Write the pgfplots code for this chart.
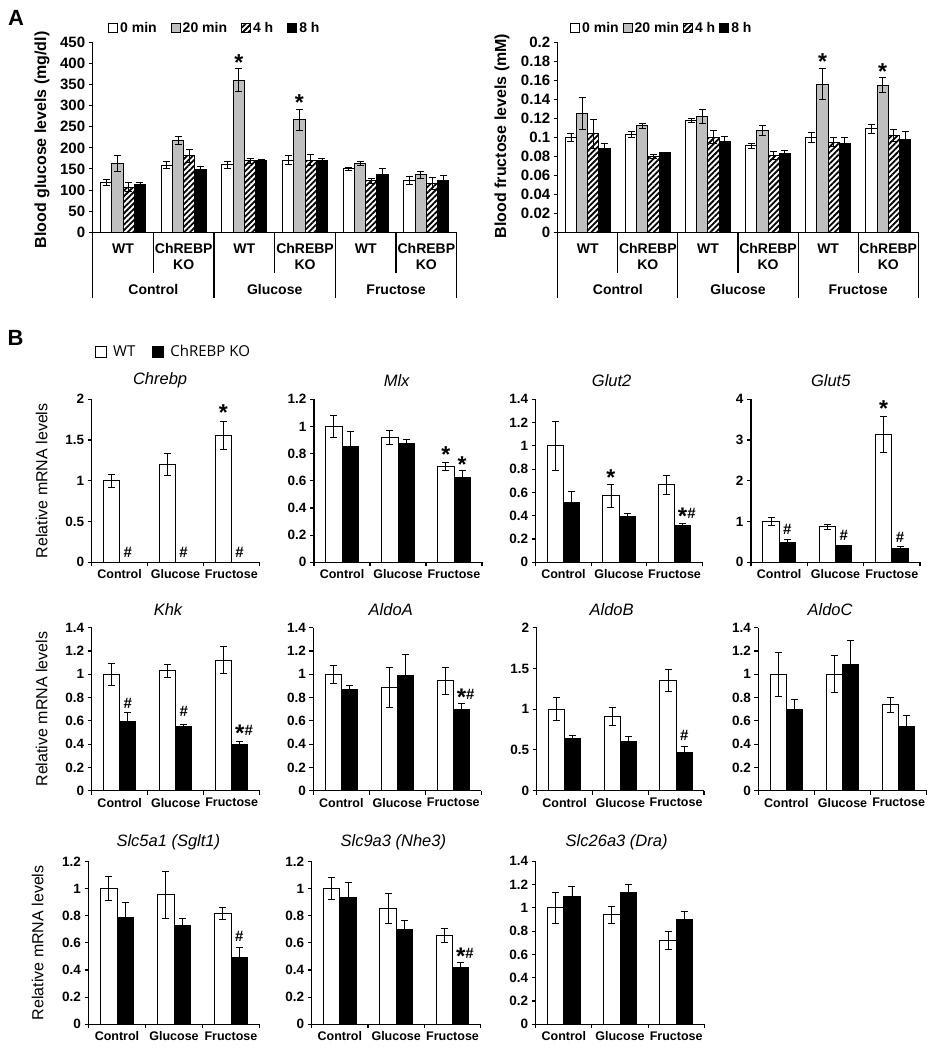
\documentclass[border=0pt]{standalone}
\usepackage{fontspec}
\setmainfont{Liberation Sans}
\newfontfamily\legfont{Open Sans}
\usepackage{pgfplots}
\pgfplotsset{compat=1.18}
\usetikzlibrary{patterns.meta}
\newcommand{\fs}[1]{\fontsize{#1bp}{#1bp}\selectfont}
\newcommand{\sh}{\raisebox{-6bp}{\fs{24}*}\fs{15}\#}
\definecolor{bargray}{RGB}{191,191,191}
\tikzset{
 star/.style={anchor=north,inner sep=0pt,font=\fs{23}\bfseries},
 hash/.style={anchor=north,inner sep=0pt,font=\fs{15}\bfseries},
}
\pgfplotsset{
 common/.style={
   scale only axis, axis lines*=left, clip=false, enlargelimits=false,
   ymin=0, tick align=outside, major tick length=4bp,
   axis line style={line width=1.1bp,black},
   every tick/.append style={line width=1.1bp,black},
   /pgf/number format/assume math mode=true,
   /pgf/number format/fixed, /pgf/number format/precision=2,
   ybar,
   error bars/y dir=both, error bars/y explicit,
   error bars/error bar style={line width=0.9bp,black},
   error bars/error mark options={line width=0.9bp,mark size=3.5bp,rotate=90,black},
   legend image code/.code={\draw[#1] (0bp,-4.5bp) rectangle (9bp,4.5bp);},
 },
 achart/.style={common, height=190bp, bar width=0.186, xmin=0, xmax=6, xtick=\empty,
   y tick label style={font=\fs{15}\bfseries},
   legend columns=4,
 },
 bchart/.style={common, height=163bp, bar width=0.29, xmin=0, xmax=3,
   xtick={0,1,2,3}, xticklabels={Control,Glucose,Fructose,}, x tick label as interval,
   x tick label style={font=\fs{12.5}\bfseries},
   y tick label style={font=\fs{13.5}\bfseries},
   title style={font=\fs{16.5}\itshape, anchor=center, yshift=12.6bp},
   every axis y label/.style={at={(axis description cs:-0.298,0.5)},rotate=90,anchor=center,font=\fs{16}},
 },
 wt/.style={draw=black,fill=white,line width=1bp,bar shift=-0.145},
 ko/.style={draw=black,fill=black,line width=1bp,bar shift=0.145},
 s0/.style={draw=black,fill=white,line width=1bp,bar shift=-0.279},
 s1/.style={draw=black,fill=bargray,line width=1bp,bar shift=-0.093},
 s2/.style={draw=black,line width=1bp,pattern={Lines[angle=45,distance=4bp,line width=1.8bp]},pattern color=black,bar shift=0.093},
 s3/.style={draw=black,fill=black,line width=1bp,bar shift=0.279},
}
\newcommand{\hier}{%
  \draw[line width=1.1bp] (axis cs:0,0) -- ++(0,-66bp);
  \draw[line width=1.1bp] (axis cs:1,0) -- ++(0,-41bp);
  \draw[line width=1.1bp] (axis cs:2,0) -- ++(0,-66bp);
  \draw[line width=1.1bp] (axis cs:3,0) -- ++(0,-41bp);
  \draw[line width=1.1bp] (axis cs:4,0) -- ++(0,-66bp);
  \draw[line width=1.1bp] (axis cs:5,0) -- ++(0,-41bp);
  \draw[line width=1.1bp] (axis cs:6,0) -- ++(0,-66bp);
  \begin{scope}[every node/.style={font=\fontsize{14bp}{16bp}\selectfont\bfseries,align=center}]
  \node at ([yshift=-16.7bp]axis cs:0.5,0) {WT};
  \node at ([yshift=-16.7bp]axis cs:2.5,0) {WT};
  \node at ([yshift=-16.7bp]axis cs:4.5,0) {WT};
  \node at ([yshift=-24.7bp]axis cs:1.5,0) {ChREBP\\KO};
  \node at ([yshift=-24.7bp]axis cs:3.5,0) {ChREBP\\KO};
  \node at ([yshift=-24.7bp]axis cs:5.5,0) {ChREBP\\KO};
  \node at ([yshift=-57.7bp]axis cs:1,0) {Control};
  \node at ([yshift=-57.7bp]axis cs:3,0) {Glucose};
  \node at ([yshift=-57.7bp]axis cs:5,0) {Fructose};
  \end{scope}
}
\begin{document}
\begin{tikzpicture}[x=1bp,y=1bp]
\path[use as bounding box] (0,0) rectangle (935,1050);
\node[font=\fs{22}\bfseries] at (16,1032.5) {A};
\node[font=\fs{22}\bfseries] at (15.5,712.5) {B};

% ---------- A: glucose ----------
\begin{axis}[achart, at={(92.7bp,817.7bp)}, width=364bp, ymax=450, ytick distance=50,
  ylabel={Blood glucose levels (mg/dl)},
  every axis y label/.style={at={(axis description cs:-0.139,0.486)},rotate=90,anchor=center,font=\fs{16}\bfseries},
  legend style={at={(axis description cs:0.042,1.074)},anchor=west,draw=none,fill=none,inner sep=0pt,
    font=\fs{14}\bfseries, /tikz/every even column/.append style={column sep=12bp}}]
\addplot[s0] coordinates {(0.5,118)+-(0,7) (1.5,159)+-(0,8) (2.5,160)+-(0,8) (3.5,171)+-(0,10) (4.5,150)+-(0,4) (5.5,123)+-(0,10)};
\addplot[s1] coordinates {(0.5,163)+-(0,18) (1.5,218)+-(0,10) (2.5,360)+-(0,27) (3.5,266)+-(0,24) (4.5,163)+-(0,5) (5.5,136)+-(0,9)};
\addplot[s2] coordinates {(0.5,107)+-(0,10) (1.5,181)+-(0,16) (2.5,170)+-(0,6) (3.5,171)+-(0,13) (4.5,122)+-(0,6) (5.5,116)+-(0,15)};
\addplot[s3] coordinates {(0.5,112)+-(0,6) (1.5,149)+-(0,8) (2.5,170)+-(0,3) (3.5,170)+-(0,6) (4.5,138)+-(0,12) (5.5,123)+-(0,11)};
\legend{0 min,20 min,4 h,8 h}
\node[star] at (axis cs:2.407,421) {*};
\node[star] at (axis cs:3.407,327) {*};
\hier
\end{axis}

% ---------- A: fructose ----------
\begin{axis}[achart, at={(557.7bp,817.7bp)}, width=360.6bp, ymax=0.2,
  ytick={0,0.02,0.04,0.06,0.08,0.1,0.12,0.14,0.16,0.18,0.2},
  ylabel={Blood fructose levels (mM)},
  every axis y label/.style={at={(axis description cs:-0.1545,0.507)},rotate=90,anchor=center,font=\fs{16}\bfseries},
  legend style={at={(axis description cs:0.034,1.074)},anchor=west,draw=none,fill=none,inner sep=0pt,
    font=\fs{14}\bfseries, /tikz/every even column/.append style={column sep=2bp}}]
\addplot[s0] coordinates {(0.5,0.100)+-(0,0.004) (1.5,0.103)+-(0,0.003) (2.5,0.118)+-(0,0.002) (3.5,0.091)+-(0,0.003) (4.5,0.100)+-(0,0.005) (5.5,0.109)+-(0,0.005)};
\addplot[s1] coordinates {(0.5,0.125)+-(0,0.0165) (1.5,0.112)+-(0,0.003) (2.5,0.122)+-(0,0.007) (3.5,0.107)+-(0,0.005) (4.5,0.156)+-(0,0.016) (5.5,0.155)+-(0,0.008)};
\addplot[s2] coordinates {(0.5,0.1035)+-(0,0.015) (1.5,0.080)+-(0,0.002) (2.5,0.100)+-(0,0.007) (3.5,0.081)+-(0,0.004) (4.5,0.095)+-(0,0.005) (5.5,0.102)+-(0,0.006)};
\addplot[s3] coordinates {(0.5,0.088)+-(0,0.005) (1.5,0.0835)+-(0,0.001) (2.5,0.096)+-(0,0.005) (3.5,0.083)+-(0,0.003) (4.5,0.093)+-(0,0.007) (5.5,0.0975)+-(0,0.009)};
\legend{0 min,20 min,4 h,8 h}
\node[star] at (axis cs:4.407,0.188) {*};
\node[star] at (axis cs:5.407,0.178) {*};
\hier
\end{axis}

% ---------- B row 1 ----------
\begin{axis}[bchart, at={(91.7bp,487.7bp)}, width=167.6bp, ymax=2, ytick={0,0.5,1,1.5,2},
  title={Chrebp}, title style={at={(axis description cs:0.408,1)}}, ylabel={Relative mRNA levels},
  legend columns=2,
  legend image code/.code={\draw[#1] (0bp,-5.5bp) rectangle (11bp,5.5bp);},
  legend style={at={(axis description cs:0.02,1.29)},anchor=west,draw=none,fill=none,inner sep=0pt,
    font=\legfont\fs{15}, /tikz/every even column/.append style={column sep=15bp},
    /tikz/every odd column/.append style={column sep=4bp}}]
\addplot[wt] coordinates {(0.5,1.00)+-(0,0.08) (1.5,1.20)+-(0,0.13) (2.5,1.56)+-(0,0.17)};
\addplot[ko, error bars/y dir=none] coordinates {(0.5,0) (1.5,0) (2.5,0)};
\legend{WT,ChREBP KO}
\node[hash] at (axis cs:0.645,0.19) {\#};
\node[hash] at (axis cs:1.645,0.19) {\#};
\node[hash] at (axis cs:2.645,0.19) {\#};
\node[star] at (axis cs:2.355,1.94) {*};
\end{axis}

\begin{axis}[bchart, at={(314bp,487.7bp)}, width=168bp, ymax=1.2, ytick={0,0.2,0.4,0.6,0.8,1,1.2},
  title={Mlx}, title style={at={(axis description cs:0.492,1)}}]
\addplot[wt] coordinates {(0.5,1.00)+-(0,0.08) (1.5,0.92)+-(0,0.05) (2.5,0.704)+-(0,0.03)};
\addplot[ko] coordinates {(0.5,0.851)+-(0,0.11) (1.5,0.873)+-(0,0.03) (2.5,0.626)+-(0,0.05)};
\node[star] at (axis cs:2.355,0.85) {*};
\node[star] at (axis cs:2.645,0.777) {*};
\end{axis}

\begin{axis}[bchart, at={(535.7bp,487.7bp)}, width=166.6bp, ymax=1.4, ytick={0,0.2,0.4,0.6,0.8,1,1.2,1.4},
  title={Glut2}, title style={at={(axis description cs:0.456,1)}}]
\addplot[wt] coordinates {(0.5,1.00)+-(0,0.21) (1.5,0.57)+-(0,0.095) (2.5,0.664)+-(0,0.085)};
\addplot[ko] coordinates {(0.5,0.515)+-(0,0.09) (1.5,0.392)+-(0,0.03) (2.5,0.32)+-(0,0.012)};
\node[star] at (axis cs:1.355,0.80) {*};
\node[hash] at (axis cs:2.72,0.47) {\sh};
\end{axis}

\begin{axis}[bchart, at={(751bp,487.7bp)}, width=169bp, ymax=4, ytick={0,1,2,3,4},
  title={Glut5}, title style={at={(axis description cs:0.472,1)}}]
\addplot[wt] coordinates {(0.5,1.00)+-(0,0.1) (1.5,0.867)+-(0,0.05) (2.5,3.14)+-(0,0.45)};
\addplot[ko] coordinates {(0.5,0.483)+-(0,0.08) (1.5,0.40)+-(0,0.02) (2.5,0.327)+-(0,0.05)};
\node[star] at (axis cs:2.355,3.97) {*};
\node[hash] at (axis cs:0.645,0.93) {\#};
\node[hash] at (axis cs:1.645,0.785) {\#};
\node[hash] at (axis cs:2.645,0.73) {\#};
\end{axis}

% ---------- B row 2 ----------
\begin{axis}[bchart, at={(91.7bp,259.3bp)}, width=168bp, ymax=1.4, ytick={0,0.2,0.4,0.6,0.8,1,1.2,1.4},
  title={Khk}, title style={at={(axis description cs:0.454,1)}}, ylabel={Relative mRNA levels}]
\addplot[wt] coordinates {(0.5,1.00)+-(0,0.095) (1.5,1.03)+-(0,0.057) (2.5,1.121)+-(0,0.117)};
\addplot[ko] coordinates {(0.5,0.598)+-(0,0.074) (1.5,0.552)+-(0,0.017) (2.5,0.396)+-(0,0.03)};
\node[hash] at (axis cs:0.645,0.797) {\#};
\node[hash] at (axis cs:1.645,0.726) {\#};
\node[hash] at (axis cs:2.72,0.569) {\sh};
\end{axis}

\begin{axis}[bchart, at={(313.3bp,259.3bp)}, width=168bp, ymax=1.4, ytick={0,0.2,0.4,0.6,0.8,1,1.2,1.4},
  title={AldoA}, title style={at={(axis description cs:0.461,1)}}]
\addplot[wt] coordinates {(0.5,1.00)+-(0,0.077) (1.5,0.888)+-(0,0.17) (2.5,0.945)+-(0,0.115)};
\addplot[ko] coordinates {(0.5,0.871)+-(0,0.037) (1.5,0.988)+-(0,0.185) (2.5,0.697)+-(0,0.054)};
\node[hash] at (axis cs:2.72,0.877) {\sh};
\end{axis}

\begin{axis}[bchart, at={(536.7bp,259.3bp)}, width=167.3bp, ymax=2, ytick={0,0.5,1,1.5,2},
  title={AldoB}, title style={at={(axis description cs:0.448,1)}}]
\addplot[wt] coordinates {(0.5,1.00)+-(0,0.14) (1.5,0.915)+-(0,0.11) (2.5,1.35)+-(0,0.134)};
\addplot[ko] coordinates {(0.5,0.638)+-(0,0.045) (1.5,0.598)+-(0,0.07) (2.5,0.47)+-(0,0.075)};
\node[hash] at (axis cs:2.645,0.74) {\#};
\end{axis}

\begin{axis}[bchart, at={(758.3bp,259.3bp)}, width=168.4bp, ymax=1.4, ytick={0,0.2,0.4,0.6,0.8,1,1.2,1.4},
  title={AldoC}, title style={at={(axis description cs:0.426,1)}}]
\addplot[wt] coordinates {(0.5,1.00)+-(0,0.19) (1.5,1.00)+-(0,0.16) (2.5,0.74)+-(0,0.065)};
\addplot[ko] coordinates {(0.5,0.694)+-(0,0.09) (1.5,1.087)+-(0,0.2) (2.5,0.549)+-(0,0.1)};
\end{axis}

% ---------- B row 3 ----------
\begin{axis}[bchart, at={(88.5bp,25.7bp)}, width=171bp, ymax=1.2, ytick={0,0.2,0.4,0.6,0.8,1,1.2},
  title={Slc5a1 (Sglt1)}, title style={at={(axis description cs:0.467,1)}}, ylabel={Relative mRNA levels}]
\addplot[wt] coordinates {(0.5,1.00)+-(0,0.09) (1.5,0.952)+-(0,0.172) (2.5,0.814)+-(0,0.045)};
\addplot[ko] coordinates {(0.5,0.787)+-(0,0.113) (1.5,0.728)+-(0,0.05) (2.5,0.489)+-(0,0.08)};
\node[hash] at (axis cs:2.645,0.684) {\#};
\end{axis}

\begin{axis}[bchart, at={(311.7bp,25.7bp)}, width=169bp, ymax=1.2, ytick={0,0.2,0.4,0.6,0.8,1,1.2},
  title={Slc9a3 (Nhe3)}, title style={at={(axis description cs:0.483,1)}}]
\addplot[wt] coordinates {(0.5,1.00)+-(0,0.08) (1.5,0.853)+-(0,0.108) (2.5,0.654)+-(0,0.052)};
\addplot[ko] coordinates {(0.5,0.934)+-(0,0.113) (1.5,0.70)+-(0,0.064) (2.5,0.42)+-(0,0.035)};
\node[hash] at (axis cs:2.72,0.56) {\sh};
\end{axis}

\begin{axis}[bchart, at={(535.7bp,25.7bp)}, width=168.6bp, ymax=1.4, ytick={0,0.2,0.4,0.6,0.8,1,1.2,1.4},
  title={Slc26a3 (Dra)}, title style={at={(axis description cs:0.48,1)}}]
\addplot[wt] coordinates {(0.5,1.00)+-(0,0.13) (1.5,0.941)+-(0,0.072) (2.5,0.719)+-(0,0.075)};
\addplot[ko] coordinates {(0.5,1.10)+-(0,0.08) (1.5,1.134)+-(0,0.07) (2.5,0.90)+-(0,0.067)};
\end{axis}
\end{tikzpicture}
\end{document}
